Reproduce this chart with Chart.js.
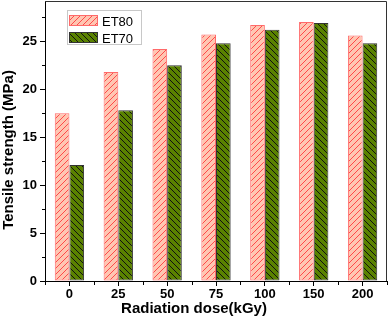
<!DOCTYPE html>
<html>
<head>
<meta charset="utf-8">
<script src="https://cdn.jsdelivr.net/npm/chart.js@4"></script>
<style>
html, body { margin: 0; padding: 0; background: #fff; }
#wrap { width: 391px; height: 322px; }
</style>
</head>
<body>
<div id="wrap"><canvas id="chart" width="391" height="322"></canvas></div>
<script>
// data
const doses = ['0', '25', '50', '75', '100', '150', '200'];
const et80 = [17.5, 21.8, 24.2, 25.7, 26.7, 27.0, 25.6];
const et70 = [12.1, 17.8, 22.5, 24.8, 26.2, 26.9, 24.8];
const seriesNames = ['ET80', 'ET70'];
const yMax = 29.2;

// hatch patterns
function hatch(bg, line, dir) {
    const s = 6;
    const c = document.createElement('canvas');
    c.width = s; c.height = s;
    const g = c.getContext('2d');
    g.fillStyle = bg;
    g.fillRect(0, 0, s, s);
    g.strokeStyle = line;
    g.lineWidth = 1;
    g.beginPath();
    if (dir === '/') {
        g.moveTo(-1, s + 1); g.lineTo(s + 1, -1);
        g.moveTo(-1, 1); g.lineTo(1, -1);
        g.moveTo(s - 1, s + 1); g.lineTo(s + 1, s - 1);
    } else {
        g.moveTo(-1, -1); g.lineTo(s + 1, s + 1);
        g.moveTo(s - 1, -1); g.lineTo(s + 1, 1);
        g.moveTo(-1, s - 1); g.lineTo(1, s + 1);
    }
    g.stroke();
    return g.createPattern(c, 'repeat');
}

const fillET80 = hatch('#ffc6b2', '#ff4a4a', '/');
const fillET70 = hatch('#5a8200', '#111111', '\\');

const extras = {
    id: 'extras',
    afterDraw(chart) {
        const ctx = chart.ctx;
        const a = chart.chartArea;
        const y = chart.scales.y;
        ctx.save();
        // frame top/right
        ctx.strokeStyle = '#333';
        ctx.lineWidth = 1;
        ctx.beginPath();
        ctx.moveTo(a.left, a.top + 0.5);
        ctx.lineTo(a.right - 0.5, a.top + 0.5);
        ctx.lineTo(a.right - 0.5, a.bottom);
        ctx.stroke();

        // minor ticks
        ctx.strokeStyle = '#000';
        ctx.beginPath();
        for (let v = 2.5; v < yMax; v += 5) {
            const py = Math.round(y.getPixelForValue(v)) + 0.5;
            ctx.moveTo(a.left, py);
            ctx.lineTo(a.left - 3, py);
        }
        const w = (a.right - a.left) / doses.length;
        for (let i = 0; i <= doses.length; i++) {
            const px = Math.round(a.left + i * w) + 0.5;
            ctx.moveTo(px, a.bottom);
            ctx.lineTo(px, a.bottom + 4);
        }
        ctx.stroke();

        // legend
        ctx.strokeStyle = '#c8c8c8';
        ctx.strokeRect(67.5, 10.5, 74, 34);
        const fills = [fillET80, fillET70];
        const borders = ['#ff6a6a', '#333'];
        const tops = [15, 32];
        ctx.font = '13px Arial, "Liberation Sans"';
        ctx.textBaseline = 'alphabetic';
        ctx.textAlign = 'left';
        for (let i = 0; i < 2; i++) {
            ctx.fillStyle = fills[i];
            ctx.fillRect(69, tops[i], 29, 11);
            ctx.strokeStyle = borders[i];
            ctx.strokeRect(69.5, tops[i] + 0.5, 28, 10);
            ctx.fillStyle = '#000';
            ctx.fillText(seriesNames[i], 102, tops[i] + 10.5);
        }

        // axis titles
        ctx.font = 'bold 15px Arial, "Liberation Sans"';
        ctx.textAlign = 'center';
        ctx.fillText('Radiation dose(kGy)', 194, 313);
        ctx.translate(13, 150);
        ctx.rotate(-Math.PI / 2);
        ctx.fillText('Tensile strength (MPa)', 0, 0);
        ctx.restore();
    }
};

const tickFont = { family: 'Arial, "Liberation Sans"', size: 13, weight: 'bold' };

new Chart(document.getElementById('chart').getContext('2d'), {
    type: 'bar',
    data: {
        labels: doses,
        datasets: [{
            label: seriesNames[0],
            data: et80,
            backgroundColor: fillET80,
            borderColor: '#ff6a6a',
            borderWidth: 1,
            borderSkipped: false
        }, {
            label: seriesNames[1],
            data: et70,
            backgroundColor: fillET70,
            borderColor: '#333',
            borderWidth: 1,
            borderSkipped: false
        }]
    },
    options: {
        responsive: false,
        animation: false,
        datasets: { bar: { categoryPercentage: 0.6, barPercentage: 1 } },
        layout: { padding: { top: 1, right: 4, left: 0, bottom: 0 } },
        plugins: { legend: { display: false }, tooltip: { enabled: false } },
        scales: {
            x: {
                afterFit(s) { s.height = 41; s.paddingLeft = 0; s.paddingRight = 0; },
                grid: { offset: false, drawOnChartArea: false, tickLength: 5, tickColor: '#000' },
                border: { color: '#000' },
                ticks: { color: '#000', font: tickFont, padding: 1, maxRotation: 0 }
            },
            y: {
                min: 0,
                max: yMax,
                afterFit(s) { s.width = 45; s.paddingTop = 0; s.paddingBottom = 0; },
                grid: {
                    drawOnChartArea: false,
                    tickLength: 5,
                    tickColor: c => (c.tick && c.tick.value % 5 === 0) ? '#000' : 'rgba(0,0,0,0)'
                },
                border: { color: '#000' },
                ticks: {
                    stepSize: 2.5,
                    includeBounds: false,
                    color: '#000',
                    font: tickFont,
                    padding: 3,
                    callback: v => (v % 5 === 0 ? v : '')
                }
            }
        }
    },
    plugins: [extras]
});
</script>
</body>
</html>
